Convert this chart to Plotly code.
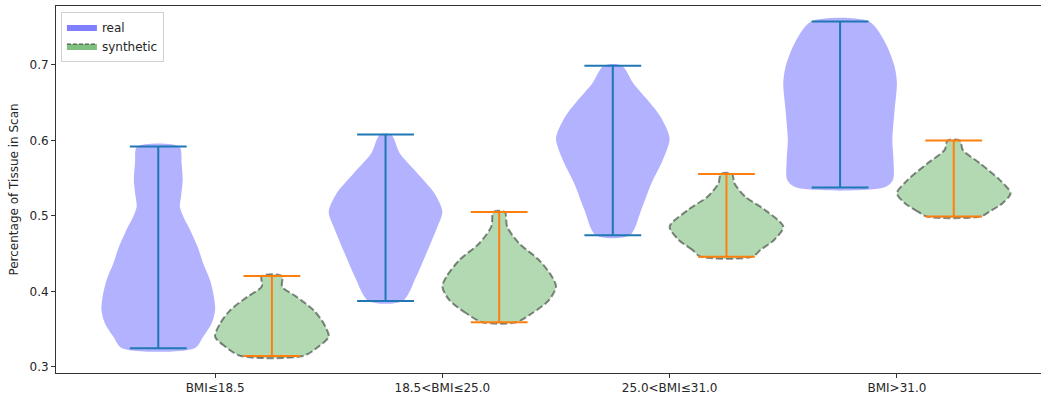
import plotly.graph_objects as go

# ---- data ----
categories = ["BMI≤18.5", "18.5<BMI≤25.0", "25.0<BMI≤31.0", "BMI>31.0"]
yticks = [0.3, 0.4, 0.5, 0.6, 0.7]

# density profiles (value levels bottom->top, relative density 0..1)
real_levels = [
    [0.3248, 0.3401, 0.3579, 0.3755, 0.3931, 0.4152, 0.4374, 0.4594, 0.4815, 0.4991,
     0.5124, 0.5256, 0.5477, 0.5698, 0.5918],
    [0.3874, 0.4196, 0.4506, 0.4815, 0.5057, 0.5301, 0.5566, 0.583, 0.6077],
    [0.4744, 0.5079, 0.5433, 0.5742, 0.6029, 0.6315, 0.6493, 0.6758, 0.699],
    [0.5375, 0.5477, 0.5742, 0.6007, 0.6404, 0.6758, 0.6977, 0.7287, 0.7574],
]
real_density = [
    [0.64, 0.79, 0.94, 1.0, 0.98, 0.91, 0.79, 0.69, 0.56, 0.44,
     0.38, 0.40, 0.43, 0.41, 0.37],
    [0.30, 0.54, 0.72, 0.89, 1.0, 0.86, 0.56, 0.25, 0.10],
    [0.30, 0.50, 0.68, 0.88, 1.0, 0.84, 0.66, 0.36, 0.16],
    [0.77, 0.93, 0.94, 0.92, 0.96, 1.0, 0.96, 0.80, 0.51],
]
synth_levels = [
    [0.3146, 0.3269, 0.3401, 0.3579, 0.3755, 0.3931, 0.4064, 0.4205],
    [0.3592, 0.3711, 0.3887, 0.4064, 0.4196, 0.4417, 0.4638, 0.4858, 0.5053],
    [0.4461, 0.455, 0.4682, 0.4858, 0.5079, 0.5256, 0.5433, 0.5556],
    [0.4991, 0.5057, 0.5168, 0.5301, 0.5477, 0.5698, 0.5874, 0.5998],
]
synth_density = [
    [0.55, 0.82, 1.0, 0.91, 0.73, 0.43, 0.18, 0.18],
    [0.30, 0.58, 0.88, 1.0, 0.93, 0.70, 0.35, 0.14, 0.10],
    [0.46, 0.60, 0.84, 1.0, 0.68, 0.33, 0.14, 0.10],
    [0.47, 0.63, 0.86, 1.0, 0.81, 0.46, 0.16, 0.11],
]

HALF = 0.25   # half of violin width
CAP = 0.125   # half length of min/max caps
OFFSET = 0.25

fig = go.Figure()


def add_violin(center, levels, dens, fill, edge, dash, linecolor):
    xs = [center - HALF * d for d in dens] + [center + HALF * d for d in reversed(dens)]
    ys = list(levels) + list(reversed(levels))
    xs.append(xs[0])
    ys.append(ys[0])
    fig.add_trace(go.Scatter(
        x=xs, y=ys, mode="lines", fill="toself", fillcolor=fill,
        line=dict(color=edge, width=2 if dash else 0, dash=dash, shape="spline", smoothing=0.8),
        showlegend=False, hoverinfo="skip"))
    lo, hi = min(levels), max(levels)
    fig.add_trace(go.Scatter(
        x=[center, center, None, center - CAP, center + CAP, None, center - CAP, center + CAP],
        y=[lo, hi, None, lo, lo, None, hi, hi],
        mode="lines", line=dict(color=linecolor, width=2),
        showlegend=False, hoverinfo="skip"))


for i in range(len(categories)):
    add_violin(i - OFFSET, real_levels[i], real_density[i],
               "rgba(0,0,255,0.3)", "rgba(0,0,255,0)", None, "#1f77b4")
    add_violin(i + OFFSET, synth_levels[i], synth_density[i],
               "rgba(0,128,0,0.3)", "rgba(0,0,0,0.45)", "7px,3px", "#ff7f0e")

# legend entries
fig.add_trace(go.Scatter(x=[None], y=[None], mode="lines", fill="toself",
                         fillcolor="rgba(0,0,255,0.5)", line=dict(width=0, color="rgba(0,0,255,0.5)"),
                         name="real"))
fig.add_trace(go.Scatter(x=[None], y=[None], mode="lines", fill="toself",
                         fillcolor="rgba(0,128,0,0.5)",
                         line=dict(width=1.5, color="rgba(0,0,0,0.45)", dash="4px,2px"),
                         name="synthetic"))

fig.update_layout(
    width=1041, height=398,
    margin=dict(l=56, r=0, t=6, b=25),
    plot_bgcolor="white", paper_bgcolor="white",
    font=dict(family="DejaVu Sans", size=12, color="#262626"),
    showlegend=True,
    legend=dict(x=0.005, y=0.985, xanchor="left", yanchor="top",
                bgcolor="white", bordercolor="#d0d0d0", borderwidth=1,
                font=dict(size=12), tracegroupgap=0, itemwidth=30),
)
fig.update_xaxes(range=[-0.70, 3.634], tickvals=list(range(len(categories))), ticktext=categories,
                 showgrid=False, zeroline=False, showline=True, mirror=True,
                 linecolor="#333", linewidth=1, ticks="outside", ticklen=4, tickcolor="#333")
fig.update_yaxes(range=[0.292, 0.778], tickvals=yticks, ticktext=[f"{v:.1f}" for v in yticks],
                 showgrid=False, zeroline=False, showline=True, mirror=False,
                 linecolor="#333", linewidth=1, ticks="outside", ticklen=4, tickcolor="#333",
                 title=dict(text="Percentage of Tissue in Scan", font=dict(size=12), standoff=8))

fig.write_html("out.html", config={"displayModeBar": False},
               post_script="document.body.style.margin='0';document.body.style.overflow='hidden';")
